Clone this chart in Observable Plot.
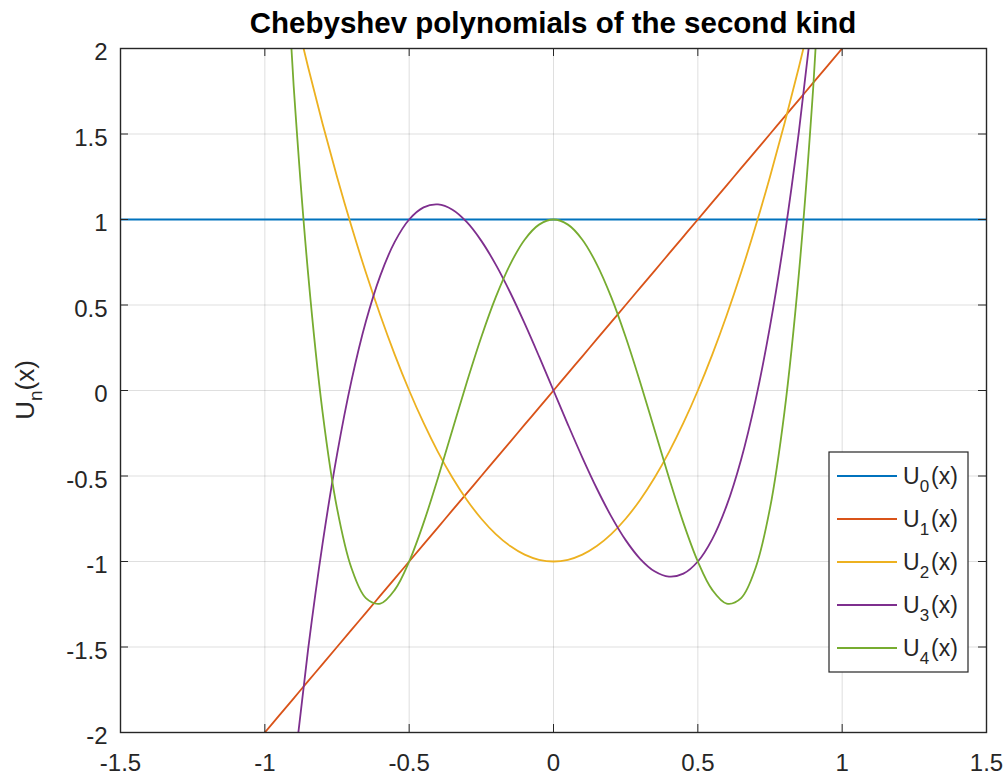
<!DOCTYPE html>
<html><head><meta charset="utf-8">
<script src="https://cdn.jsdelivr.net/npm/d3@7"></script>
<script src="https://cdn.jsdelivr.net/npm/@observablehq/plot@0.6"></script>
<style>
body{margin:0;background:#fff;font-family:"Liberation Sans",Arial,sans-serif;}
#wrap{position:relative;width:1007px;height:776px;overflow:hidden;}
#title{position:absolute;left:120px;width:866px;top:0;height:46px;text-align:center;font-weight:bold;font-size:29.5px;line-height:46px;color:#000;white-space:nowrap;}
#chart{position:absolute;top:40px;left:0;}
</style></head><body>
<div id="wrap"><div id="title">Chebyshev polynomials of the second kind</div><div id="chart"></div></div>
<script>
const xs = [-1,-0.95,-0.9,-0.85,-0.8,-0.75,-0.7,-0.65,-0.6,-0.55,-0.5,-0.45,-0.4,-0.35,-0.3,-0.25,-0.2,-0.15,-0.1,-0.05,0,
  0.05,0.1,0.15,0.2,0.25,0.3,0.35,0.4,0.45,0.5,0.55,0.6,0.65,0.7,0.75,0.8,0.85,0.9,0.95,1];
const x0s = [-1.5,1.5];
const u0 = [1,1];
const u1 = [-2,-1.9,-1.8,-1.7,-1.6,-1.5,-1.4,-1.3,-1.2,-1.1,-1,-0.9,-0.8,-0.7,-0.6,-0.5,-0.4,-0.3,-0.2,-0.1,0,
  0.1,0.2,0.3,0.4,0.5,0.6,0.7,0.8,0.9,1,1.1,1.2,1.3,1.4,1.5,1.6,1.7,1.8,1.9,2];
const u2 = [3,2.61,2.24,1.89,1.56,1.25,0.96,0.69,0.44,0.21,0,-0.19,-0.36,-0.51,-0.64,-0.75,-0.84,-0.91,-0.96,-0.99,-1,
  -0.99,-0.96,-0.91,-0.84,-0.75,-0.64,-0.51,-0.36,-0.19,0,0.21,0.44,0.69,0.96,1.25,1.56,1.89,2.24,2.61,3];
const u3 = [-4,-3.059,-2.232,-1.513,-0.896,-0.375,0.056,0.403,0.672,0.869,1,1.071,1.088,1.057,0.984,0.875,0.736,0.573,0.392,0.199,0,
  -0.199,-0.392,-0.573,-0.736,-0.875,-0.984,-1.057,-1.088,-1.071,-1,-0.869,-0.672,-0.403,-0.056,0.375,0.896,1.513,2.232,3.059,4];
const u4 = [5,3.202,1.778,0.682,-0.126,-0.688,-1.038,-1.214,-1.246,-1.166,-1,-0.774,-0.51,-0.23,0.05,0.313,0.546,0.738,0.882,0.97,1,
  0.97,0.882,0.738,0.546,0.313,0.05,-0.23,-0.51,-0.774,-1,-1.166,-1.246,-1.214,-1.038,-0.688,-0.126,0.682,1.778,3.202,5];
const seriesNames = ["U0(x)","U1(x)","U2(x)","U3(x)","U4(x)"];
const seriesSubs = ["0","1","2","3","4"];
const colors = ["#0072BD","#D95319","#EDB120","#7E2F8E","#77AC30"];
const xTicks = [-1.5,-1,-0.5,0,0.5,1,1.5];
const yTicks = [-2,-1.5,-1,-0.5,0,0.5,1,1.5,2];
const yLabelMain = "U", yLabelSub = "n", yLabelTail = "(x)";

const data = [];
x0s.forEach((x,i) => data.push({x, y: u0[i], s: seriesNames[0]}));
[u1,u2,u3,u4].forEach((arr,k) => xs.forEach((x,i) => data.push({x, y: arr[i], s: seriesNames[k+1]})));

const W = 1007, H = 736, mL = 120, mR = 21, mT = 8, mB = 44;
const iW = W - mL - mR, iH = H - mT - mB, tick = 8;
const ink = "#262626";
const fmt = d => String(d);

const plot = Plot.plot({
  width: W, height: H, marginLeft: mL, marginRight: mR, marginTop: mT, marginBottom: mB,
  style: {fontFamily: "'Liberation Sans', Arial, sans-serif", fontSize: "24px", color: ink, background: "#fff", overflow: "visible"},
  x: {domain: [-1.5, 1.5]},
  y: {domain: [-2, 2]},
  color: {domain: seriesNames, range: colors},
  marks: [
    Plot.gridX(xTicks, {stroke: ink, strokeOpacity: 0.15, strokeWidth: 1}),
    Plot.gridY(yTicks, {stroke: ink, strokeOpacity: 0.15, strokeWidth: 1}),
    Plot.line(data, {x: "x", y: "y", z: "s", stroke: "s", strokeWidth: 1.8, curve: "catmull-rom", clip: true}),
    Plot.ruleX(xTicks, {stroke: ink, insetTop: iH - tick}),
    Plot.ruleX(xTicks, {stroke: ink, insetBottom: iH - tick}),
    Plot.ruleY(yTicks, {stroke: ink, insetRight: iW - tick}),
    Plot.ruleY(yTicks, {stroke: ink, insetLeft: iW - tick}),
    Plot.axisX(xTicks, {anchor: "bottom", tickSize: 0, tickPadding: 21, tickFormat: fmt, fill: ink, fontSize: 24, label: null}),
    Plot.axisY(yTicks, {anchor: "left", tickSize: 0, tickPadding: 13, dy: 4, tickFormat: fmt, fill: ink, fontSize: 24, label: null}),
    Plot.frame({stroke: ink, strokeWidth: 1.4})
  ]
});
document.getElementById("chart").appendChild(plot);

const svg = d3.select(plot);
// y label with subscript
const yl = svg.append("text")
  .attr("transform", `translate(34,${mT + iH/2}) rotate(-90)`)
  .attr("text-anchor", "middle")
  .attr("fill", ink)
  .style("font-size", "26px")
  .style("font-family", "'Liberation Sans', Arial, sans-serif");
yl.append("tspan").text(yLabelMain);
yl.append("tspan").attr("dy", 8).style("font-size", "19px").text(yLabelSub);
yl.append("tspan").attr("dy", -8).text(yLabelTail);

// legend
const lx = 829, ly = 412, lw = 139, lh = 220;
const lg = svg.append("g").style("font-family", "'Liberation Sans', Arial, sans-serif");
lg.append("rect").attr("x", lx).attr("y", ly).attr("width", lw).attr("height", lh)
  .attr("fill", "#fff").attr("stroke", ink).attr("stroke-width", 1.2);
seriesNames.forEach((name, i) => {
  const cy = ly + 24 + i * 43;
  lg.append("line").attr("x1", lx + 8).attr("x2", lx + 68).attr("y1", cy).attr("y2", cy)
    .attr("stroke", colors[i]).attr("stroke-width", 1.8);
  const t = lg.append("text").attr("x", lx + 74).attr("y", cy + 8).attr("fill", ink)
    .attr("text-anchor", "start").style("font-size", "23px");
  t.append("tspan").text("U");
  t.append("tspan").attr("dy", 8).style("font-size", "17px").text(seriesSubs[i]);
  t.append("tspan").attr("dy", -8).attr("dx", 2).text("(x)");
});
</script>
</body></html>
